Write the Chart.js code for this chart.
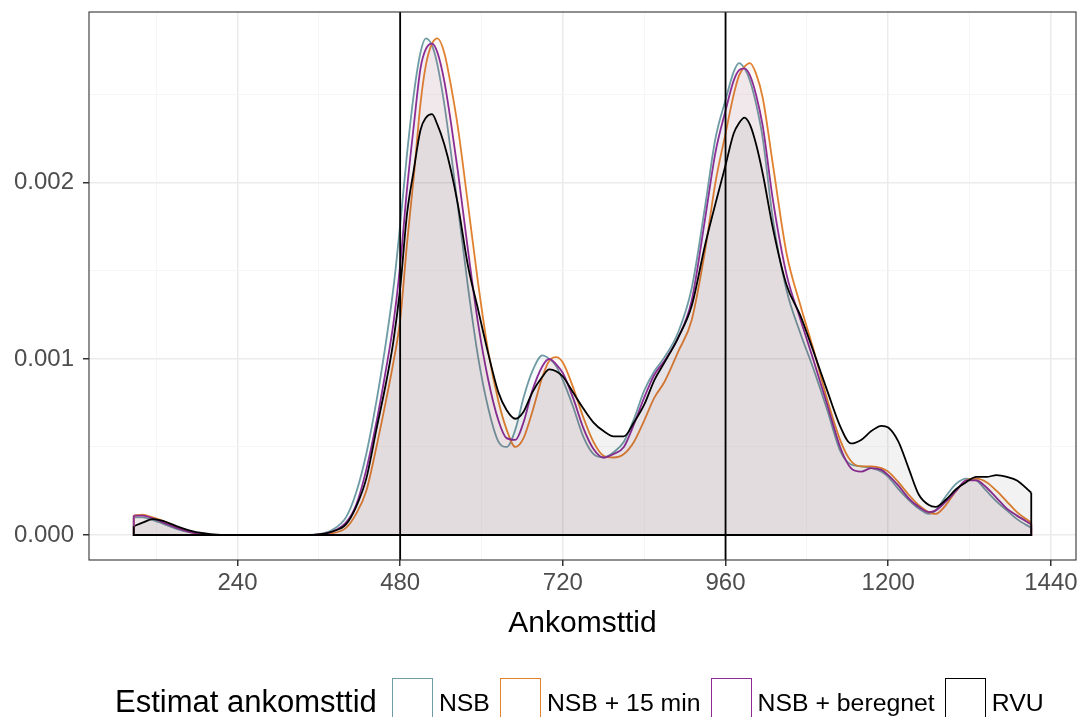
<!DOCTYPE html>
<html>
<head>
<meta charset="utf-8">
<script src="https://cdn.jsdelivr.net/npm/chart.js@4.4.1/dist/chart.umd.min.js"></script>
<style>
html,body{margin:0;padding:0;background:#fff;width:1081px;height:717px;overflow:hidden;}
#wrap{position:relative;width:1081px;height:717px;overflow:hidden;}
canvas{position:absolute;left:0;top:0;}
#legend{position:absolute;left:115px;top:678px;display:flex;align-items:flex-start;font-family:"Liberation Sans",Arial,sans-serif;white-space:nowrap;color:#000;}
#legend .ttl{font-size:31px;line-height:1;margin-top:8px;margin-right:15px;}
#legend .key{width:41px;height:50px;box-sizing:border-box;border:1.6px solid #000;margin-right:6px;background:#fff;}
#legend .lab{font-size:24.8px;line-height:1;margin-top:13px;margin-right:10px;}
</style>
</head>
<body>
<div id="wrap">
<canvas id="c" width="1081" height="717"></canvas>
<div id="legend"></div>
</div>
<script>
// ---- data ----
const minutes = [87,100,115,130,150,170,190,210,240,300,340,360,380,400,415,430,445,460,470,480,490,500,510,518,527,535,545,555,565,580,595,610,625,637,650,662,675,690,700,710,720,735,750,765,780,795,810,825,840,855,870,890,910,930,945,960,972,980,988,996,1005,1015,1030,1050,1070,1090,1110,1130,1145,1160,1175,1190,1200,1215,1230,1245,1260,1270,1285,1300,1315,1330,1345,1360,1375,1390,1411];

const nsb = [0.0001,0.0001,0.000085,0.000065,0.000035,0.000015,0.000004,0,0,0,
0.000001,0.000005,0.00003,0.0001,0.00024,0.00046,0.00076,0.00112,0.0014,0.00176,
0.00216,0.0025,0.00274,0.00282,0.00278,0.00267,0.00245,0.00217,0.00187,0.00141,
0.00101,0.00072,0.00053,0.0005,0.0006,0.00078,0.00093,0.00102,0.001,0.00096,
0.00088,0.00073,0.00056,0.00046,0.00044,0.00047,0.00053,0.00066,0.00082,0.00093,
0.00101,0.00115,0.0014,0.00187,0.00225,0.00247,0.00263,0.00268,0.00265,0.00258,
0.00245,0.00225,0.00179,0.00139,0.00115,0.00094,0.00071,0.00047,0.0004,0.00039,
0.00038,0.00036,0.00033,0.00026,0.0002,0.00015,0.00012,0.00014,0.00022,0.00029,
0.00032,0.00031,0.00025,0.00019,0.00014,0.00009,0.00004];

const nsb15 = [0.00011,0.000115,0.0001,0.00008,0.000045,0.000018,0.000005,0,0,0,
0,0.000002,0.00001,0.00004,0.00012,0.00025,0.0005,0.00078,0.00098,0.00122,
0.00165,0.00203,0.00245,0.00267,0.00279,0.00282,0.00274,0.00255,0.00232,0.00188,
0.00143,0.00104,0.00076,0.0006,0.0005,0.00055,0.0007,0.0009,0.00099,0.00101,
0.00098,0.00084,0.00067,0.00053,0.00045,0.00044,0.00046,0.00053,0.00065,0.00078,
0.00087,0.00104,0.00122,0.00162,0.002,0.00228,0.0025,0.00261,0.00266,0.00268,
0.00262,0.00248,0.0021,0.0016,0.00131,0.00105,0.00077,0.00053,0.00042,0.00039,
0.00039,0.00038,0.00036,0.0003,0.00023,0.00017,0.00013,0.00012,0.00017,0.00025,
0.00031,0.00032,0.0003,0.00025,0.00019,0.00013,0.00007];

const nsbBeregnet = [0.00011,0.00011,0.000095,0.000072,0.00004,0.000016,0.000004,0,0,0,
0,0.000003,0.00002,0.00007,0.00017,0.00037,0.00064,0.00096,0.0012,0.00153,
0.00196,0.00232,0.00265,0.00276,0.00279,0.00274,0.00258,0.00234,0.00207,0.00162,
0.0012,0.00088,0.00065,0.00055,0.00054,0.00064,0.00082,0.00096,0.001,0.00097,
0.00092,0.00078,0.00061,0.00049,0.00044,0.00046,0.0005,0.00063,0.00078,0.00091,
0.00099,0.00112,0.00133,0.0018,0.00217,0.00241,0.00258,0.00264,0.00265,0.00261,
0.0025,0.00232,0.0019,0.00148,0.00123,0.00099,0.00074,0.00049,0.00038,0.00036,
0.00038,0.00037,0.00034,0.00028,0.00021,0.00016,0.00013,0.00014,0.00019,0.00025,
0.00031,0.00031,0.00027,0.00021,0.00015,0.00011,0.00006];

const rvu = [0.00005,0.00007,0.00009,0.00008,0.00005,0.000025,0.00001,0.000002,0,0,
0,0.000003,0.00002,0.00006,0.00016,0.00032,0.0006,0.00088,0.0011,0.0014,
0.00182,0.00207,0.0023,0.00237,0.00239,0.00233,0.00222,0.00207,0.00188,0.00153,
0.00128,0.00103,0.00081,0.00071,0.00066,0.0007,0.00081,0.0009,0.00094,0.00093,
0.0009,0.00081,0.00072,0.00064,0.00059,0.00056,0.00056,0.00064,0.00074,0.00088,
0.00098,0.00112,0.0013,0.00165,0.00188,0.0021,0.00228,0.00234,0.00237,0.00233,
0.00222,0.00205,0.00174,0.00142,0.00125,0.00104,0.00082,0.00061,0.00052,0.00054,
0.00059,0.00062,0.00061,0.00053,0.00038,0.00023,0.00017,0.00016,0.0002,0.00026,
0.0003,0.00033,0.00033,0.00034,0.00033,0.00031,0.00024];

const seriesNames = ['NSB', 'NSB + 15 min', 'NSB + beregnet', 'RVU'];
const xTickValues = [120,240,360,480,600,720,840,960,1080,1200,1320,1440];
const yTickValues = [0,0.0005,0.001,0.0015,0.002,0.0025];
const refLines = [480, 960];
const legendTitle = 'Estimat ankomsttid';
const xTitle = 'Ankomsttid';

// ---- styling ----
const FAMILY = '"Liberation Sans", Arial, sans-serif';
const palette = ['#6E9BA4', '#E0812F', '#8B2D95', '#000000'];
const fills = ['rgba(110,155,164,0.055)', 'rgba(224,129,47,0.055)', 'rgba(139,45,149,0.055)', 'rgba(0,0,0,0.05)'];
const series = [nsb, nsb15, nsbBeregnet, rvu];

const datasets = [];
series.forEach((s, i) => {
  datasets.push({
    label: seriesNames[i],
    data: minutes.map((m, j) => ({x: m, y: s[j]})),
    borderColor: palette[i],
    backgroundColor: fills[i],
    fill: 'origin',
    borderWidth: 1.8,
    pointRadius: 0,
    cubicInterpolationMode: 'monotone',
    order: 3 - i
  });
  const n = minutes.length - 1;
  datasets.push({
    label: seriesNames[i] + ' edge',
    data: [{x: minutes[0], y: s[0]}, {x: minutes[0], y: 0}, {x: minutes[n], y: 0}, {x: minutes[n], y: s[n]}],
    borderColor: palette[i],
    borderWidth: 1.8,
    fill: false,
    pointRadius: 0,
    tension: 0,
    order: -1 - i * 0.1
  });
});

const isMajorX = v => v % 240 === 0;
const isMajorY = v => Math.abs(v * 1000 - Math.round(v * 1000)) < 1e-9;

const overlay = {
  id: 'overlay',
  afterDatasetsDraw(chart) {
    const {ctx, chartArea: a, scales: {x}} = chart;
    ctx.save();
    ctx.strokeStyle = '#000';
    ctx.lineWidth = 1.8;
    refLines.forEach(v => {
      const px = x.getPixelForValue(v);
      ctx.beginPath();
      ctx.moveTo(px, a.top);
      ctx.lineTo(px, a.bottom);
      ctx.stroke();
    });
    ctx.strokeStyle = '#333';
    ctx.lineWidth = 1.1;
    ctx.strokeRect(a.left, a.top, a.right - a.left, a.bottom - a.top);
    ctx.restore();
  }
};

new Chart(document.getElementById('c'), {
  type: 'line',
  data: {datasets},
  options: {
    responsive: false,
    animation: false,
    devicePixelRatio: 1,
    layout: {padding: {top: 12, right: 5, left: 0, bottom: 0}},
    plugins: {legend: {display: false}, tooltip: {enabled: false}},
    scales: {
      x: {
        type: 'linear', min: 21, max: 1477,
        afterBuildTicks: s => { s.ticks = xTickValues.map(v => ({value: v})); },
        afterFit: s => { s.height = 157; s.paddingLeft = 0; s.paddingRight = 0; },
        border: {display: false},
        grid: {
          color: c => (c.tick && isMajorX(c.tick.value)) ? '#EBEBEB' : '#F4F4F4',
          lineWidth: c => (c.tick && isMajorX(c.tick.value)) ? 1.5 : 0.8,
          tickColor: c => (c.tick && isMajorX(c.tick.value)) ? '#333' : 'rgba(0,0,0,0)',
          tickLength: 6
        },
        ticks: {
          autoSkip: false, maxRotation: 0, padding: 3,
          color: '#4D4D4D', font: {family: FAMILY, size: 24},
          callback: v => isMajorX(v) ? String(v) : ''
        },
        title: {display: true, text: xTitle, color: '#000', font: {family: FAMILY, size: 30}, padding: {top: 0, bottom: 75}}
      },
      y: {
        type: 'linear', min: -0.000142, max: 0.00297,
        afterBuildTicks: s => { s.ticks = yTickValues.map(v => ({value: v})); },
        afterFit: s => { s.width = 89; s.paddingTop = 0; s.paddingBottom = 0; },
        border: {display: false},
        grid: {
          color: c => (c.tick && isMajorY(c.tick.value)) ? '#EBEBEB' : '#F4F4F4',
          lineWidth: c => (c.tick && isMajorY(c.tick.value)) ? 1.5 : 0.8,
          tickColor: c => (c.tick && isMajorY(c.tick.value)) ? '#333' : 'rgba(0,0,0,0)',
          tickLength: 6
        },
        ticks: {
          autoSkip: false, padding: 9,
          color: '#4D4D4D', font: {family: FAMILY, size: 24},
          callback: v => isMajorY(v) ? v.toFixed(3) : ''
        }
      }
    }
  },
  plugins: [overlay]
});

// ---- legend ----
const lg = document.getElementById('legend');
const t = document.createElement('div'); t.className = 'ttl'; t.textContent = legendTitle; lg.appendChild(t);
seriesNames.forEach((name, i) => {
  const k = document.createElement('div'); k.className = 'key';
  k.style.borderColor = palette[i];
  lg.appendChild(k);
  const l = document.createElement('div'); l.className = 'lab'; l.textContent = name; lg.appendChild(l);
});
</script>
</body>
</html>
